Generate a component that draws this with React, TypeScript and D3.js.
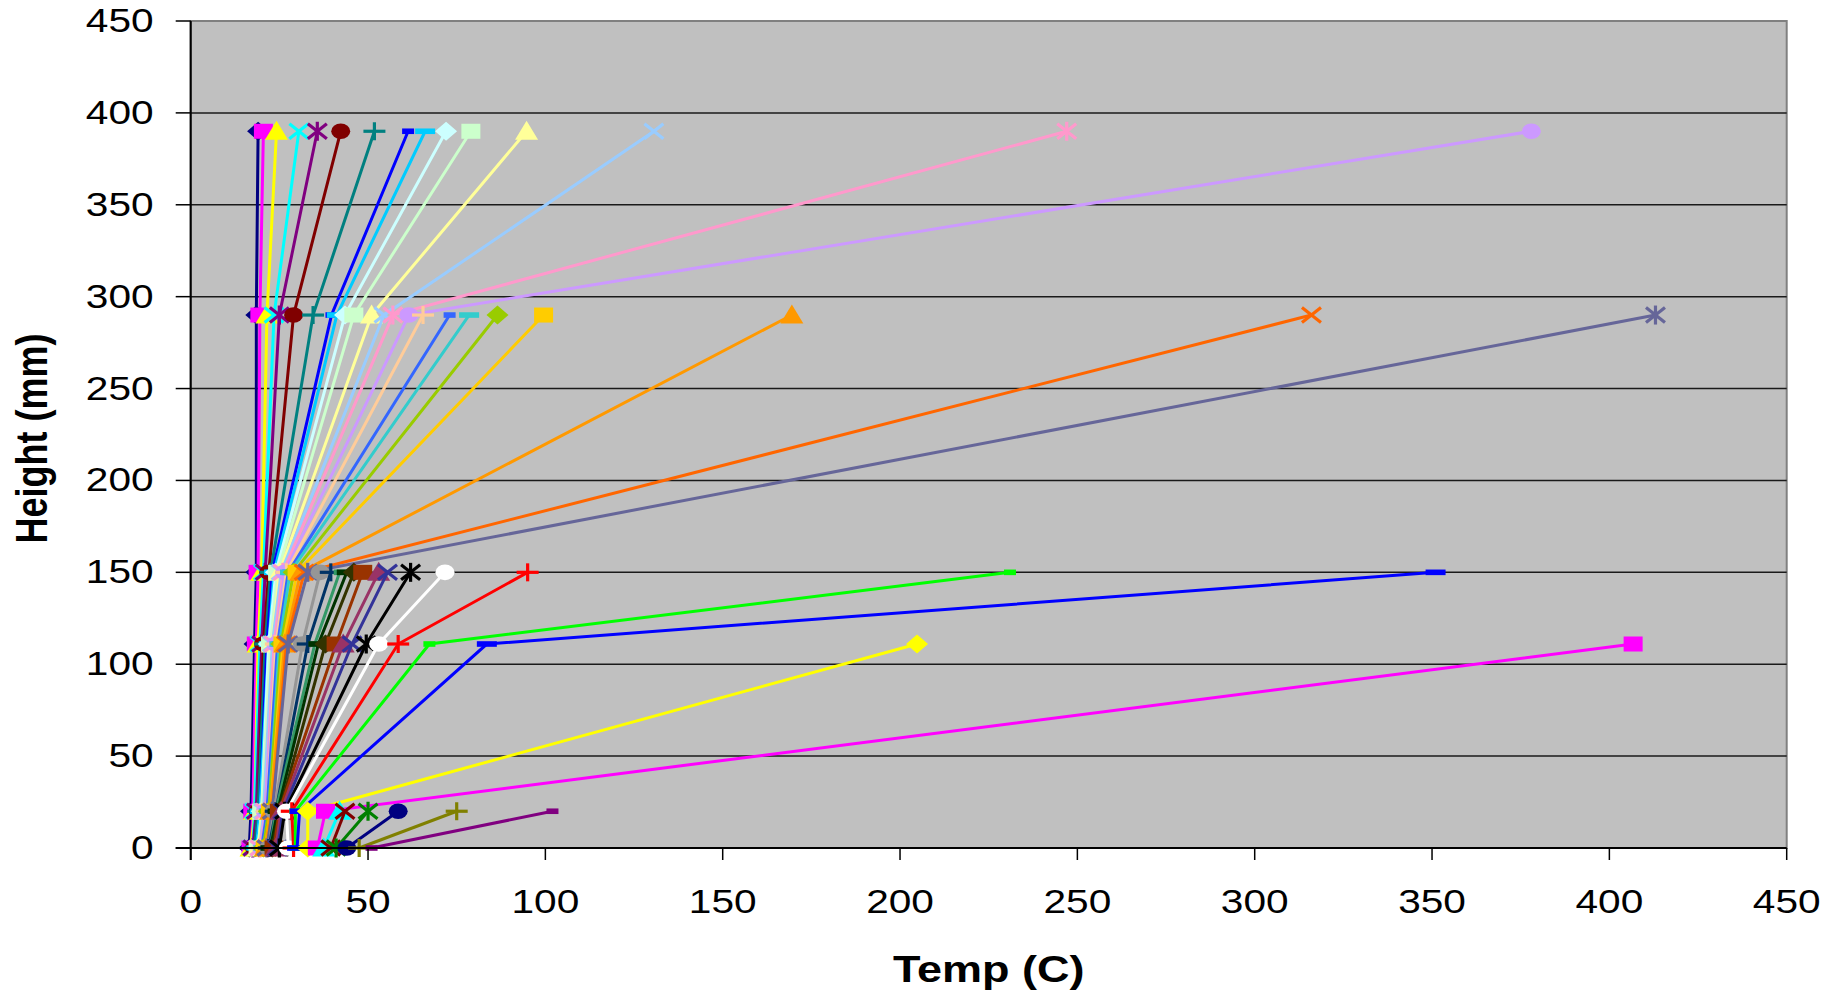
import React from 'react';
import * as d3 from 'd3';

// sensor heights (mm)
const heights = [0, 20, 111, 150, 290, 390];

const xTicks = [0, 50, 100, 150, 200, 250, 300, 350, 400, 450];
const yTicks = [0, 50, 100, 150, 200, 250, 300, 350, 400, 450];

// Excel 2003 series colours, in series order
const seriesColors = [
  '#000080', '#FF00FF', '#FFFF00', '#00FFFF', '#800080', '#800000', '#008080', '#0000FF',
  '#00CCFF', '#CCFFFF', '#CCFFCC', '#FFFF99', '#99CCFF', '#FF99CC', '#CC99FF', '#FFCC99',
  '#3366FF', '#33CCCC', '#99CC00', '#FFCC00', '#FF9900', '#FF6600', '#666699', '#969696',
  '#003366', '#339966', '#003300', '#333300', '#993300', '#993366', '#333399', '#000000',
  '#FFFFFF', '#FF0000', '#00FF00', '#0000FF', '#FFFF00', '#FF00FF', '#00FFFF', '#800000',
  '#008000', '#000080', '#808000', '#800080',
];

const markerCycle = ['diamond', 'square', 'triangle', 'x', 'star', 'circle', 'plus', 'dot', 'dash'];

// temperature (C) at each height, null where the sensor has no reading
const seriesTemps: (number | null)[][] = [
  [16.5, 17, 18, 18.5, 18.5, 19],
  [17, 17.5, 18.5, 19, 19.5, 20.5],
  [17, 18, 19, 20, 21.5, 24.2],
  [17.5, 18, 19.5, 20.5, 23.5, 30.5],
  [17.5, 18.5, 20, 21, 25, 35.7],
  [18, 19, 20.5, 22, 29, 42.3],
  [18, 19, 21, 22.5, 34.5, 51.8],
  [18.5, 19.5, 21.5, 23, 39.7, 61.3],
  [18.5, 19.5, 22, 23.5, 41.2, 66.1],
  [19, 20, 22, 24, 43.5, 72],
  [19, 20, 22.5, 24.5, 46, 79],
  [19, 20.5, 23, 25, 51, 94.7],
  [19.5, 20.5, 23, 25.5, 54.5, 130.6],
  [19.5, 21, 23.5, 26, 57, 247],
  [20, 21, 24, 26.5, 61.5, 378],
  [20, 21.5, 24, 27, 65.5, null],
  [20, 21.5, 24.5, 27.5, 73, null],
  [20.5, 22, 25, 28, 78.5, null],
  [20.5, 22, 25.5, 29, 86.5, null],
  [21, 22.5, 26, 30, 99.5, null],
  [21, 22.5, 26.5, 31, 169.5, null],
  [21.5, 23, 27, 32, 316, null],
  [21.5, 23, 27.5, 33, 413, null],
  [22, 23.5, 31.5, 36.5, null, null],
  [22, 24, 33, 39.5, null, null],
  [22.5, 24, 35, 42, null, null],
  [22.5, 24.5, 36, 44, null, null],
  [23, 25, 38, 46, null, null],
  [23.5, 25, 41, 48.5, null, null],
  [24, 25.5, 43, 53, null, null],
  [24.5, 26, 45.5, 55.5, null, null],
  [25, 26.5, 49.5, 62, null, null],
  [27.5, 27, 53, 71.7, null, null],
  [29, 28.5, 58.5, 95, null, null],
  [29.5, 29.5, 67.3, 231, null, null],
  [30, 30.7, 83.5, 351, null, null],
  [33, 33, 204.8, null, null, null],
  [35.7, 38, 406.7, null, null, null],
  [37.5, 42, null, null, null, null],
  [39.5, 43.5, null, null, null, null],
  [41, 50, null, null, null, null],
  [44, 58.5, null, null, null, null],
  [47.5, 75, null, null, null, null],
  [51, 102, null, null, null, null],
];

const W = 1838;
const H = 991;
const FONT = '"Liberation Sans", Arial, sans-serif';
const SX = 1.25; // the picture is stretched sideways

function Marker({ type, color, cx, cy }: { type: string; color: string; cx: number; cy: number }) {
  const t = `translate(${cx},${cy})`;
  switch (type) {
    case 'diamond':
      return <polygon transform={t} points="0,-9.5 11,0 0,9.5 -11,0" fill={color} />;
    case 'square':
      return <rect transform={t} x={-9.5} y={-7.5} width={19} height={15} fill={color} />;
    case 'triangle':
      return <polygon transform={t} points="0,-10.5 11.5,8.5 -11.5,8.5" fill={color} />;
    case 'x':
      return (
        <g transform={t} stroke={color} strokeWidth={3.2}>
          <line x1={-9.5} y1={-7.5} x2={9.5} y2={7.5} />
          <line x1={-9.5} y1={7.5} x2={9.5} y2={-7.5} />
        </g>
      );
    case 'star':
      return (
        <g transform={t} stroke={color} strokeWidth={3.2}>
          <line x1={-9.5} y1={-7.5} x2={9.5} y2={7.5} />
          <line x1={-9.5} y1={7.5} x2={9.5} y2={-7.5} />
          <line x1={0} y1={-9.5} x2={0} y2={9.5} />
        </g>
      );
    case 'circle':
      return <ellipse cx={cx} cy={cy} rx={9.5} ry={7.8} fill={color} />;
    case 'plus':
      return (
        <g transform={t} stroke={color} strokeWidth={3.2}>
          <line x1={-11} y1={0} x2={11} y2={0} />
          <line x1={0} y1={-9} x2={0} y2={9} />
        </g>
      );
    case 'dot':
      return <rect transform={t} x={-6} y={-2.8} width={12} height={5.6} fill={color} />;
    default:
      return <rect transform={t} x={-10} y={-2.8} width={20} height={5.6} fill={color} />;
  }
}

export default function App() {
  const left = 190.7, right = 1786.7, top = 21, bottom = 848;
  const x = d3.scaleLinear().domain([0, 450]).range([left, right]);
  const y = d3.scaleLinear().domain([0, 450]).range([bottom, top]);

  const line = d3.line<[number, number]>()
    .x(d => x(d[0]))
    .y(d => y(d[1]));

  return (
    <svg width={W} height={H} style={{ position: 'absolute', left: 0, top: 0, display: 'block', background: '#fff' }}>
      {/* plot area */}
      <rect x={left} y={top} width={right - left} height={bottom - top} fill="#C0C0C0" stroke="#808080" strokeWidth={2} />

      {/* gridlines */}
      {yTicks.filter(v => v > 0 && v < 450).map(v => (
        <line key={v} x1={left} x2={right} y1={y(v)} y2={y(v)} stroke="#1a1a1a" strokeWidth={1.5} />
      ))}

      {/* series */}
      {seriesTemps.map((temps, i) => {
        const pts: [number, number][] = [];
        temps.forEach((tv, j) => { if (tv !== null) pts.push([tv, heights[j]]); });
        const color = seriesColors[i];
        const type = markerCycle[i % markerCycle.length];
        return (
          <g key={i}>
            <path d={line(pts) || ''} fill="none" stroke={color} strokeWidth={3} />
            {pts.map((p, k) => (
              <Marker key={k} type={type} color={color} cx={x(p[0])} cy={y(p[1])} />
            ))}
          </g>
        );
      })}

      {/* axes */}
      <line x1={left} x2={left} y1={top} y2={bottom + 12} stroke="#000" strokeWidth={2} />
      <line x1={left - 15} x2={right} y1={bottom} y2={bottom} stroke="#000" strokeWidth={2} />
      {yTicks.map(v => (
        <g key={v}>
          <line x1={left - 15} x2={left} y1={y(v)} y2={y(v)} stroke="#000" strokeWidth={1.5} />
          <text
            transform={`translate(153.6,${y(v)}) scale(${SX},1)`}
            textAnchor="end"
            dominantBaseline="central"
            fontFamily={FONT}
            fontSize={32.5}
            fill="#000"
          >{v}</text>
        </g>
      ))}
      {xTicks.map(v => (
        <g key={v}>
          <line x1={x(v)} x2={x(v)} y1={bottom} y2={bottom + 12} stroke="#000" strokeWidth={1.5} />
          <text
            transform={`translate(${x(v)},913) scale(${SX},1)`}
            textAnchor="middle"
            fontFamily={FONT}
            fontSize={32.5}
            fill="#000"
          >{v}</text>
        </g>
      ))}

      {/* axis titles */}
      <text
        transform={`translate(${(left + right) / 2},982) scale(${SX},1)`}
        textAnchor="middle"
        fontFamily={FONT}
        fontWeight="bold"
        fontSize={36}
        fill="#000"
      >Temp (C)</text>
      <text
        transform={`translate(47,${(top + bottom) / 2 + 4}) scale(${SX},1) rotate(-90)`}
        textAnchor="middle"
        fontFamily={FONT}
        fontWeight="bold"
        fontSize={36}
        fill="#000"
      >Height (mm)</text>
    </svg>
  );
}
